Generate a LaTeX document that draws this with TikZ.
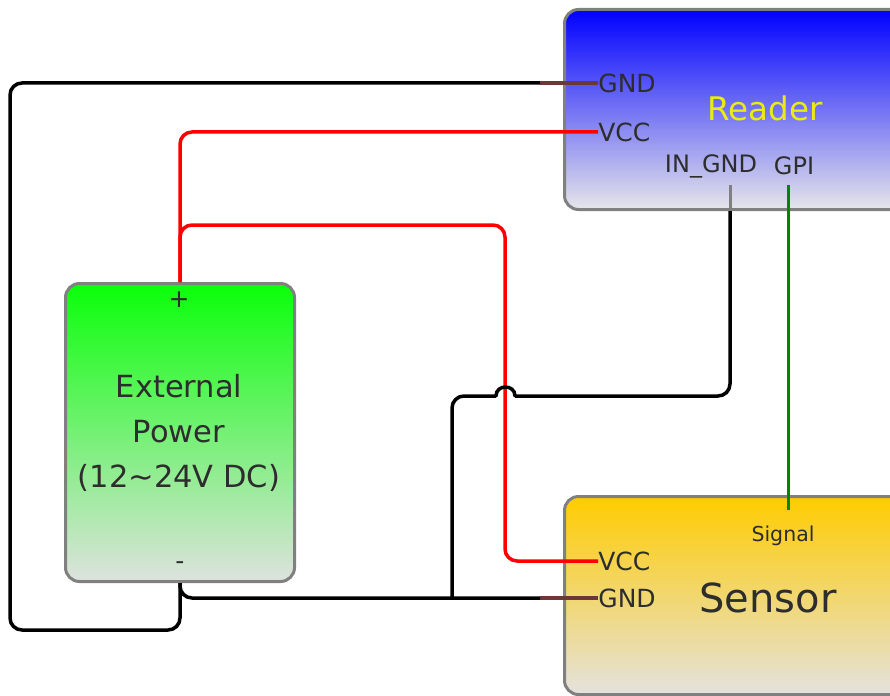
\documentclass[tikz,border=0pt]{standalone}
\usepackage{fontspec}
\setmainfont{DejaVu Sans}
\usetikzlibrary{positioning}

\definecolor{readertop}{RGB}{0,0,255}
\definecolor{readerbot}{RGB}{230,230,234}
\definecolor{powertop}{RGB}{10,255,10}
\definecolor{powerbot}{RGB}{222,226,222}
\definecolor{sensortop}{RGB}{255,204,0}
\definecolor{sensorbot}{RGB}{228,226,222}
\definecolor{boxline}{RGB}{128,128,128}
\definecolor{labeltext}{RGB}{45,45,45}
\definecolor{readertext}{RGB}{235,235,20}
\definecolor{stubbrown}{RGB}{110,55,55}
\definecolor{wiregreen}{RGB}{0,135,0}

\tikzset{every picture/.style={line width=0.75pt}}
\tikzset{
  unitbox/.style={draw=boxline,line width=3pt,rounded corners=14pt,anchor=north west,inner sep=0pt},
  pinlabel/.style={anchor=west,inner sep=0pt,text=labeltext,font=\fontsize{25}{30}\selectfont},
  boxtext/.style={inner sep=0pt,text=labeltext,align=center},
  wire/.style={line width=3.5pt,rounded corners=12pt},
  stub/.style={line width=3.5pt,draw=stubbrown},
}

\begin{document}
\begin{tikzpicture}[x=1pt,y=1pt,yscale=-1,xscale=1]
		\useasboundingbox (0,0) rectangle (890,695);
		\clip (0,0) rectangle (890,695);

		%Shape: Rounded Rect [Reader]
		\node [unitbox,top color=readertop,bottom color=readerbot,minimum width=340pt,minimum height=200pt] (reader) at (563,8) {};
		%Shape: Rounded Rect [Power]
		\node [unitbox,top color=powertop,bottom color=powerbot,minimum width=229pt,minimum height=298pt] (power) at (64,282) {};
		%Shape: Rounded Rect [Sensor]
		\node [unitbox,top color=sensortop,bottom color=sensorbot,minimum width=340pt,minimum height=198pt] (sensor) at (563,495) {};

		% Text Node
		\node [pinlabel] (rgnd) at (598,83) {GND};
		% Text Node
		\node [pinlabel] (rvcc) at (598,132) {VCC};
		% Text Node
		\node [pinlabel] (svcc) at (598,561) {VCC};
		% Text Node
		\node [pinlabel] (sgnd) at (598,598) {GND};
		% Text Node
		\node [inner sep=0pt,text=readertext,font=\fontsize{32.5}{36}\selectfont] (rtitle) at (765,108) {Reader};
		% Text Node
		\node [boxtext,font=\fontsize{24}{28}\selectfont] (ingnd) at (711,166) {IN\_GND};
		% Text Node
		\node [boxtext,font=\fontsize{24}{28}\selectfont] (gpi) at (794,166) {GPI};
		% Text Node
		\node [boxtext,anchor=base,font=\fontsize{20.5}{24}\selectfont] (signal) at (783,541) {Signal};
		% Text Node
		\node [boxtext,font=\fontsize{40}{44}\selectfont] (stitle) at (768,598) {Sensor};
		% Text Node
		\node [boxtext,font=\fontsize{30.5}{45}\selectfont] (ptitle) at (179,433) {External\\Power\\(12\textasciitilde24V DC)};
		% Text Node
		\node [boxtext,font=\fontsize{25}{30}\selectfont] (pplus) at (179,300) {+};
		% Text Node
		\node [boxtext,font=\fontsize{25}{30}\selectfont] (pminus) at (180,566) {-};

		\coordinate (rgndS) at ([xshift=-58pt]rgnd.west);
		\coordinate (sgndS) at ([xshift=-58pt]sgnd.west);
		\coordinate (ingndT) at (730,185);
		\coordinate (gpiS) at (788,185);
		\coordinate (sigN) at (788,510);
		\coordinate (hopR) at (515,396);
		\coordinate (hopL) at (496,396);

		%Straight Lines [GND stubs]
		\draw [stub] (rgnd.west) -- (rgndS);
		\draw [stub] (sgnd.west) -- (sgndS);
		%Straight Lines [IN_GND stub]
		\draw [line width=3pt,draw=boxline] (ingndT) -- (ingndT |- reader.south);

		%Wire: Reader GND to Power -
		\draw [wire] (power.south) |- (10,630) |- (rgndS);
		%Wire: Power - to Sensor GND
		\draw [wire] (power.south) |- (sgndS);
		%Wire: Reader VCC to Power +
		\draw [wire,red] (rvcc.west) -| (power.north);
		%Wire: Power + to Sensor VCC
		\draw [wire,red] (power.north) |- (505,225) |- (svcc.west);
		%Wire: IN_GND to ground, jumping the red line
		\draw [wire] (ingndT |- reader.south) |- (hopR);
		\draw [wire,line cap=round] (hopR) .. controls (515,384) and (496,384) .. (hopL);
		\draw [wire] (hopL) -| (452,598);
		%Wire: GPI to Signal
		\draw [line width=3pt,draw=wiregreen] (gpiS) -- (sigN);
	\end{tikzpicture}
\end{document}
